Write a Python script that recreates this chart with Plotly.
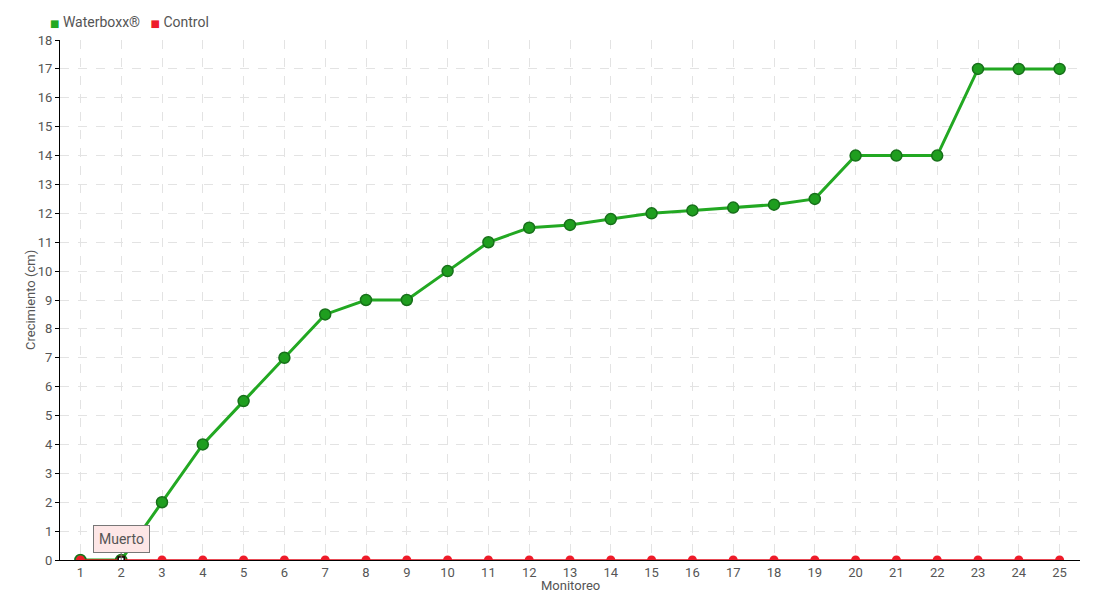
import plotly.graph_objects as go

monitoreo = list(range(1, 26))
waterboxx = [0, 0, 2, 4, 5.5, 7, 8.5, 9, 9, 10, 11, 11.5, 11.6, 11.8, 12, 12.1,
             12.2, 12.3, 12.5, 14, 14, 14, 17, 17, 17]
control = [0] * 25
series_names = ["Waterboxx®", "Control"]

FONT = "Roboto, DejaVu Sans, sans-serif"
GREEN = "#22a822"
RED = "#ee1c2a"
GREY = "#555"

fig = go.Figure()

fig.add_trace(go.Scatter(
    x=monitoreo, y=waterboxx, name=series_names[0],
    mode="lines+markers",
    line=dict(color=GREEN, width=3),
    marker=dict(size=11, color="#1f9e1f", line=dict(color="#17701a", width=1.5)),
))
fig.add_trace(go.Scatter(
    x=monitoreo, y=control, name=series_names[1],
    mode="lines+markers",
    line=dict(color="#e0101e", width=1.5),
    marker=dict(size=9, color=RED),
))
# marker at the dead point
fig.add_trace(go.Scatter(
    x=[monitoreo[1]], y=[control[1]], mode="markers",
    marker=dict(symbol="square", size=6, color="white", line=dict(color="black", width=1.5)),
    hoverinfo="skip",
))

# legend drawn as text with coloured squares
legend_txt = (f"<span style='color:{GREEN};font-size:10px'>■</span> {series_names[0]}   "
              f"<span style='color:{RED};font-size:10px'>■</span> {series_names[1]}")
fig.add_annotation(
    xref="paper", yref="paper", x=-0.012, y=1.0, yshift=18,
    xanchor="left", yanchor="middle", showarrow=False,
    text=legend_txt, font=dict(family=FONT, size=14, color=GREY),
)

# axis titles
fig.add_annotation(
    xref="paper", yref="paper", x=0, y=0.5, xshift=-30, textangle=-90,
    xanchor="center", yanchor="middle",
    showarrow=False, text="Crecimiento (cm)", font=dict(family=FONT, size=13, color=GREY),
)
fig.add_annotation(
    xref="paper", yref="paper", x=0.5, y=0, yshift=-25,
    xanchor="center", yanchor="middle",
    showarrow=False, text="Monitoreo", font=dict(family=FONT, size=13, color=GREY),
)

fig.add_annotation(
    x=monitoreo[1], y=control[1], text="Muerto",
    showarrow=True, arrowhead=0, arrowcolor="#777", arrowwidth=1,
    ax=0, ay=-21, standoff=0,
    bgcolor="#fde6e6", bordercolor="#777", borderwidth=1, borderpad=5,
    font=dict(family=FONT, size=14, color=GREY),
)

fig.update_xaxes(
    range=[0.5, 25.5], tickmode="linear", dtick=1, automargin=False,
    showline=True, linecolor="black", linewidth=1,
    showgrid=True, gridcolor="#e3e3e3", griddash="dash",
    zeroline=False, ticks="",
    tickfont=dict(size=13, color=GREY),
)
fig.update_yaxes(
    range=[0, 18], tickmode="linear", dtick=1, automargin=False,
    showline=True, linecolor="black", linewidth=1,
    showgrid=True, gridcolor="#e3e3e3", griddash="dash",
    zeroline=False, ticks="outside", ticklen=4, tickcolor="black",
    tickfont=dict(size=13, color=GREY),
)

fig.update_layout(
    width=1100, height=600,
    margin=dict(l=52, r=28, t=32, b=48),
    plot_bgcolor="white", paper_bgcolor="white",
    font=dict(family=FONT, color=GREY),
    showlegend=False,
)

fig.write_html("out.html")
